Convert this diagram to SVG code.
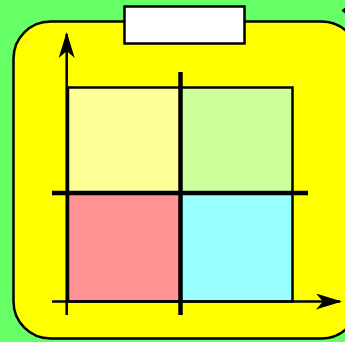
<svg xmlns="http://www.w3.org/2000/svg" width="345" height="342" viewBox="0 0 345 342">
<defs>
<style>
.ax{stroke:#000;stroke-width:2.5;fill:none}
.q{stroke:none}
.bar{stroke:#000;stroke-width:4.5}
</style>
<marker id="ah" viewBox="0 0 26 16" refX="24" refY="8" markerWidth="26" markerHeight="16" markerUnits="userSpaceOnUse" orient="auto">
<path d="M0,0 L26,8 L0,16 L7,8 Z" fill="#000"/>
</marker>
</defs>
<rect x="0" y="0" width="345" height="342" fill="#66FF66"/>
<g id="board">
<rect x="13.5" y="21.5" width="345" height="317" rx="37" ry="37" fill="#FFFF00" stroke="#000" stroke-width="2.5"/>
</g>
<g id="title">
<rect x="124.5" y="6.5" width="120" height="37" fill="#FFFFFF" stroke="#000" stroke-width="2.5"/>
</g>
<g id="q-top-left"><rect class="q" x="68" y="87" width="112" height="106" fill="#FFFF99"/></g>
<g id="q-top-right"><rect class="q" x="180" y="87" width="112.5" height="106" fill="#CCFF99"/></g>
<g id="q-bottom-left"><rect class="q" x="68" y="193" width="112" height="108" fill="#FF9393"/></g>
<g id="q-bottom-right"><rect class="q" x="180" y="193" width="112.5" height="108" fill="#99FFFF"/></g>
<g id="frame">
<rect x="68" y="87.5" width="224.5" height="214" fill="none" stroke="#000" stroke-width="2.5"/>
</g>
<g id="connectors">
<line class="ax" x1="66.7" y1="315" x2="66.7" y2="34" marker-end="url(#ah)"/>
<line class="ax" x1="52" y1="301.5" x2="340" y2="301.5" marker-end="url(#ah)"/>
<line class="bar" x1="180.5" y1="72" x2="180.5" y2="315"/>
<line class="bar" x1="52" y1="193" x2="308" y2="193"/>
<path d="M345,7.5 L341.5,10.5 L345,13.5 Z" fill="#000"/>
</g>
</svg>
